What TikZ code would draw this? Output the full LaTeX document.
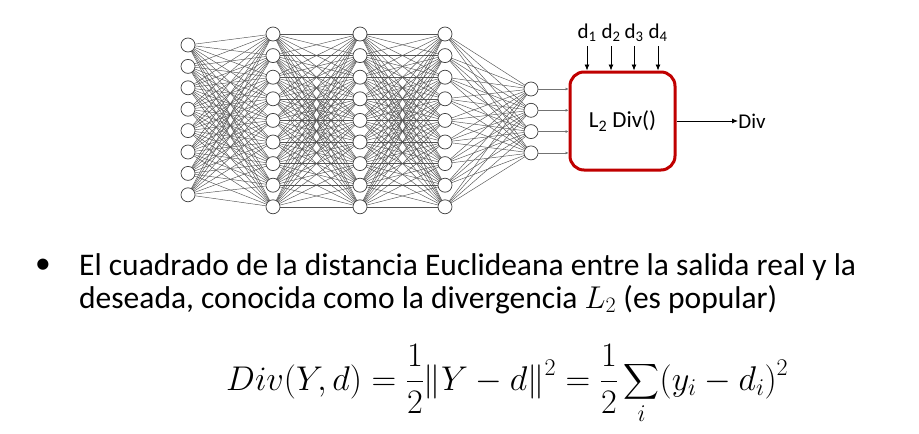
\RequirePackage{fix-cm}
\documentclass[tikz,border=0pt]{standalone}
\usepackage{fontspec}
\setmainfont{Carlito}
\usepackage{amsmath}
\usetikzlibrary{positioning,arrows.meta,backgrounds}

\definecolor{boxred}{RGB}{192,0,0}

\begin{document}
\begin{tikzpicture}[x=1pt, y=-1pt,
    neuron/.style={circle, draw=black!75, fill=white, line width=0.7pt, minimum size=14pt, inner sep=0pt},
    link/.style={draw=black!68, line width=0.45pt},
    divbox/.style={draw=boxred, line width=3pt, rounded corners=14pt, minimum width=105pt, minimum height=98pt, fill=white, font=\fontsize{23}{27}\selectfont},
    lbl/.style={font=\fontsize{21}{25}\selectfont, inner sep=1pt},
    body/.style={font=\fontsize{31.5}{38}\selectfont, inner sep=0pt, anchor=base west},
    feed/.style={-{Latex[length=6pt, width=5pt]}, line width=0.8pt, black},
    target/.style={-{Latex[length=3pt, width=3pt]}, line width=0.5pt, black!55}]
	\useasboundingbox (0,0) rectangle (919,434);
	% layers
	\foreach \i in {1,...,8} \node[neuron] (a\i) at (188, {45+21.4*(\i-1)}) {};
	\foreach \l/\x in {b/273, c/360, d/445}
		\foreach \i in {1,...,9} \node[neuron] (\l\i) at (\x, {34+21.6*(\i-1)}) {};
	\foreach \i in {1,...,4} \node[neuron] (e\i) at (531, {89+21.3*(\i-1)}) {};
	% all-to-all links
	\begin{pgfonlayer}{background}
		\foreach \p/\q/\m/\n in {a/b/8/9, b/c/9/9, c/d/9/9, d/e/9/4}
			\foreach \i in {1,...,\m}
				\foreach \j in {1,...,\n}
					\draw[link] (\p\i.center) -- (\q\j.center);
	\end{pgfonlayer}
	% divergence box
	\node[divbox] (div) at (622.5,121) {L\textsubscript{2} Div()};
	\foreach \i in {1,...,4} \draw[target] (e\i.east) -- (e\i -| div.west);
	\foreach \k/\x in {1/587, 2/611, 3/634, 4/658} {
		\node[lbl] (d\k) at (\x,33) {d\textsubscript{\k}};
		\draw[feed, shorten <=3pt] (d\k.south) -- (d\k |- div.north);
	}
	\node[lbl] (out) at (752,121) {Div};
	\draw[feed, shorten >=14pt] (div.east) -- (out.center);
	% text
	\node[font=\fontsize{31.5}{38}\selectfont, inner sep=0pt] (dot) at (43,266) {\textbullet};
	\node[body] (line1) at (79,275) {El cuadrado de la distancia Euclideana entre la salida real y la};
	\node[body] (line2) at (79,308) {deseada, conocida como la divergencia $L_2$ (es popular)};
	\node[body, font=\fontsize{34.3}{41}\selectfont] (eq) at (226,390)
		{$\displaystyle Div(Y,d)=\frac{1}{2}\|Y-d\|^2=\frac{1}{2}\sum_i (y_i-d_i)^2$};
\end{tikzpicture}
\end{document}
